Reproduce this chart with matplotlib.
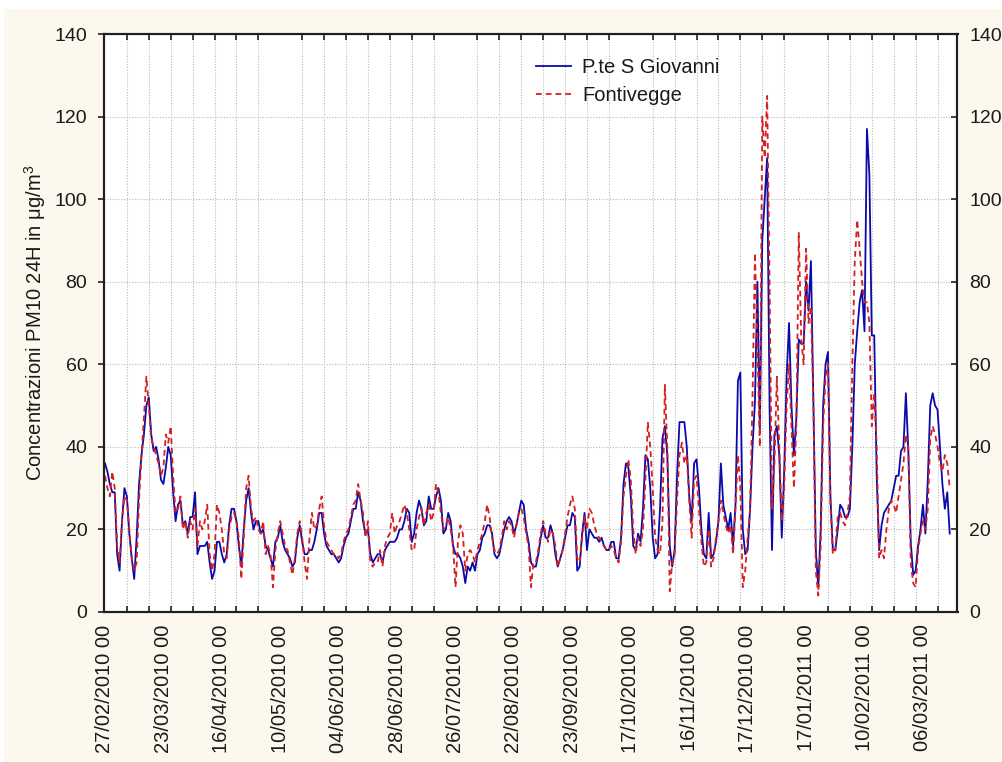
import matplotlib
matplotlib.use("Agg")
import matplotlib.pyplot as plt
import numpy as np
from matplotlib.patches import Rectangle
from matplotlib.lines import Line2D

plt.rcParams['font.family'] = ['Liberation Sans', 'DejaVu Sans']
plt.rcParams['mathtext.fontset'] = 'custom'
plt.rcParams['mathtext.rm'] = 'Liberation Sans'
plt.rcParams['mathtext.default'] = 'rm'

# ---- data ----
date_labels = ['27/02/2010 00', '23/03/2010 00', '16/04/2010 00', '10/05/2010 00',
               '04/06/2010 00', '28/06/2010 00', '26/07/2010 00', '22/08/2010 00',
               '23/09/2010 00', '17/10/2010 00', '16/11/2010 00', '17/12/2010 00',
               '17/01/2011 00', '10/02/2011 00', '06/03/2011 00']
label_step = 24

giovanni = [36,34,31,29,29,14,10,22,30,28, 19,13,8,18,31,38,43,50,52,43,
            39,40,37,32,31,35,40,38,29,22, 26,27,21,22,19,23,23,29,14,16,
            16,16,17,12,8,10,17,17,14,12, 14,21,25,25,22,16,11,20,27,30,
            24,20,22,22,19,20,16,15,13,11, 17,18,21,17,15,14,13,11,12,18,
            21,17,14,14,15,15,17,20,24,24, 19,16,15,14,14,13,12,13,16,18,
            19,22,25,25,29,27,22,19,20,14, 12,13,14,14,12,15,16,17,17,
            17,18,20,20,22,25,24,17,19,24, 27,25,21,22,28,25,25,28,30,27,
            19,20,24,22,16,14,14,13,11,7, 11,10,12,10,14,15,18,19,21,21,
            19,14,13,14,17,20,22,23,22,19, 21,24,27,26,20,17,12,11,11,14,
            18,21,18,18,21,19,14,11,13,15, 18,21,21,24,23,10,11,19,24,15,
            20,19,18,18,17,18,16,15,15,17, 17,13,13,18,31,36,35,28,16,15,
            19,17,25,38,37,30,18,13,14,25, 42,45,38,16,11,15,33,46,46,46,
            40,28,22,
            36,37,30,20,14,13,24,13,14,17, 22,36,26,23,20,24,16,26,56,58,
            20,14,15,25,40,51,80,44,90,100, 110,50,15,43,45,38,18,34,57,70,
            50,38,47,66,65,65,80,73,85,51, 15,6,20,50,60,63,28,15,15,20,
            26,25,23,23,25,40,60,68,75,78, 68,117,106,67,67,33,15,21,24,25,
            26,27,30,33,33,39,40,53,39,17, 9,10,16,20,26,19,32,50,53,50,
            49,40,31,25,29,19]

fontivegge = [33,30,28,34,30,16,12,22,28,27, 20,13,10,12,27,38,47,57,50,42,
              40,38,36,33,35,43,41,45,33,24, 25,28,20,22,18,22,20,25,16,22,
              20,22,26,14,10,14,26,24,20,14, 13,20,23,24,22,18,8,18,30,33,
              25,22,23,20,19,22,14,16,14,6, 15,19,22,19,16,15,12,9,13,19,
              22,18,12,8,18,24,20,21,25,28, 21,17,16,15,14,14,13,14,17,19,
              20,23,26,27,31,27,24,18,22,12, 11,12,12,15,11,16,18,19,24,
              19,21,22,24,26,24,20,15,15,20, 23,25,21,24,26,22,24,31,29,24,
              20,21,23,20,16,6,17,21,19,10, 14,15,14,12,15,17,19,22,26,23,
              18,15,14,15,18,22,20,22,21,18, 21,24,25,23,19,16,6,12,12,15,
              19,22,19,17,20,19,16,11,13,15, 19,23,26,28,25,13,12,18,23,20,
              25,24,21,19,18,17,16,15,15,16, 15,13,12,17,28,33,37,32,20,14,
              18,16,20,32,46,40,30,18,15,14, 22,55,40,5,12,14,27,38,41,36,
              38,27,18,
              32,33,25,17,11,12,20,11,13,18, 22,27,24,21,19,21,14,25,38,30,
              6,10,18,25,52,87,65,40,120,110, 125,80,25,36,57,40,22,30,50,60,
              45,30,45,92,66,60,88,70,74,50, 10,4,16,45,57,60,26,14,15,23,
              24,22,21,24,28,60,85,95,88,80, 75,75,70,45,53,40,13,15,13,20,
              25,27,26,24,28,32,36,43,40,12, 7,6,15,19,22,20,25,42,45,43,
              40,36,34,38,36,30]

series_names = ['P.te S Giovanni', 'Fontivegge']

# ---- figure ----
W, H = 1003, 762
fig = plt.figure(figsize=(W / 100, H / 100), dpi=100)
fig.patch.set_facecolor('white')
fig.patches.append(Rectangle((4 / W, 0), 1 - 4 / W, 1 - 9 / H, transform=fig.transFigure,
                             facecolor='#FCF8EE', edgecolor='none', zorder=-10))

ax = fig.add_axes([104 / W, 1 - 612 / H, (957.5 - 104) / W, (612 - 34) / H])
ax.set_facecolor('white')

x = np.arange(len(giovanni))
xr = np.arange(len(fontivegge))
ax.plot(x, giovanni, color='#0A0AAA', lw=1.3, label=series_names[0], zorder=3)
ax.plot(xr, fontivegge, color='#D42020', lw=1.3, ls=(0, (3.2, 2.2)), label=series_names[1], zorder=4)

ax.set_xlim(-0.4, 350.2)
ax.set_ylim(0, 140)

fs = 14.5
fst = 14
txtc = '#1A1A1A'
# x axis: labels every 24 cases, grid/ticks every 9 cases
ax.set_xticks(np.arange(len(date_labels)) * label_step)
ax.set_xticklabels(date_labels, rotation=90, fontsize=fs, color=txtc)
ax.tick_params(axis='x', which='major', length=0, pad=9)
ax.set_xticks(np.arange(9, 350, 9), minor=True)
ax.tick_params(axis='x', which='minor', direction='in', length=4, width=1.2,
               top=True, bottom=True, color='#202020')
ax.grid(True, which='minor', axis='x', color='#B8B8B8', ls=(0, (1, 1.5)), lw=0.8)

ax.set_yticks(np.arange(0, 141, 20))
ax.tick_params(axis='y', which='major', direction='out', length=4, width=1.2, pad=8,
               labelsize=fst, labelcolor=txtc, color='#202020')
ax.grid(True, which='major', axis='y', color='#B8B8B8', ls=(0, (1, 1.5)), lw=0.8)
ax.set_axisbelow(True)

ax2 = ax.twinx()
ax2.set_ylim(0, 140)
ax2.set_yticks(np.arange(0, 141, 20))
ax2.tick_params(axis='y', direction='in', length=4, width=1.2, pad=8.5,
                labelsize=fst, labelcolor=txtc, color='#202020')

for a in (ax, ax2):
    for s in a.spines.values():
        s.set_linewidth(1.5)
        s.set_color('#202020')

ax.set_ylabel(r'Concentrazioni PM10 24H in μg/m$^3$', fontsize=fs, color=txtc)
ax.yaxis.set_label_coords(-0.066, 0.5)

handles = [Line2D([], [], color='#0A0AAA', lw=1.3),
           Line2D([], [], color='#D42020', lw=1.3, ls=(0, (3.2, 2.2)))]
fig.legend(handles, series_names, loc='upper left',
           bbox_to_anchor=(536 / W, 1 - 58 / H), frameon=False, fontsize=fs,
           handlelength=1.75, handletextpad=0.55, labelspacing=0.45,
           borderpad=0, borderaxespad=0, labelcolor=txtc)

fig.savefig('out.png', dpi=100)
